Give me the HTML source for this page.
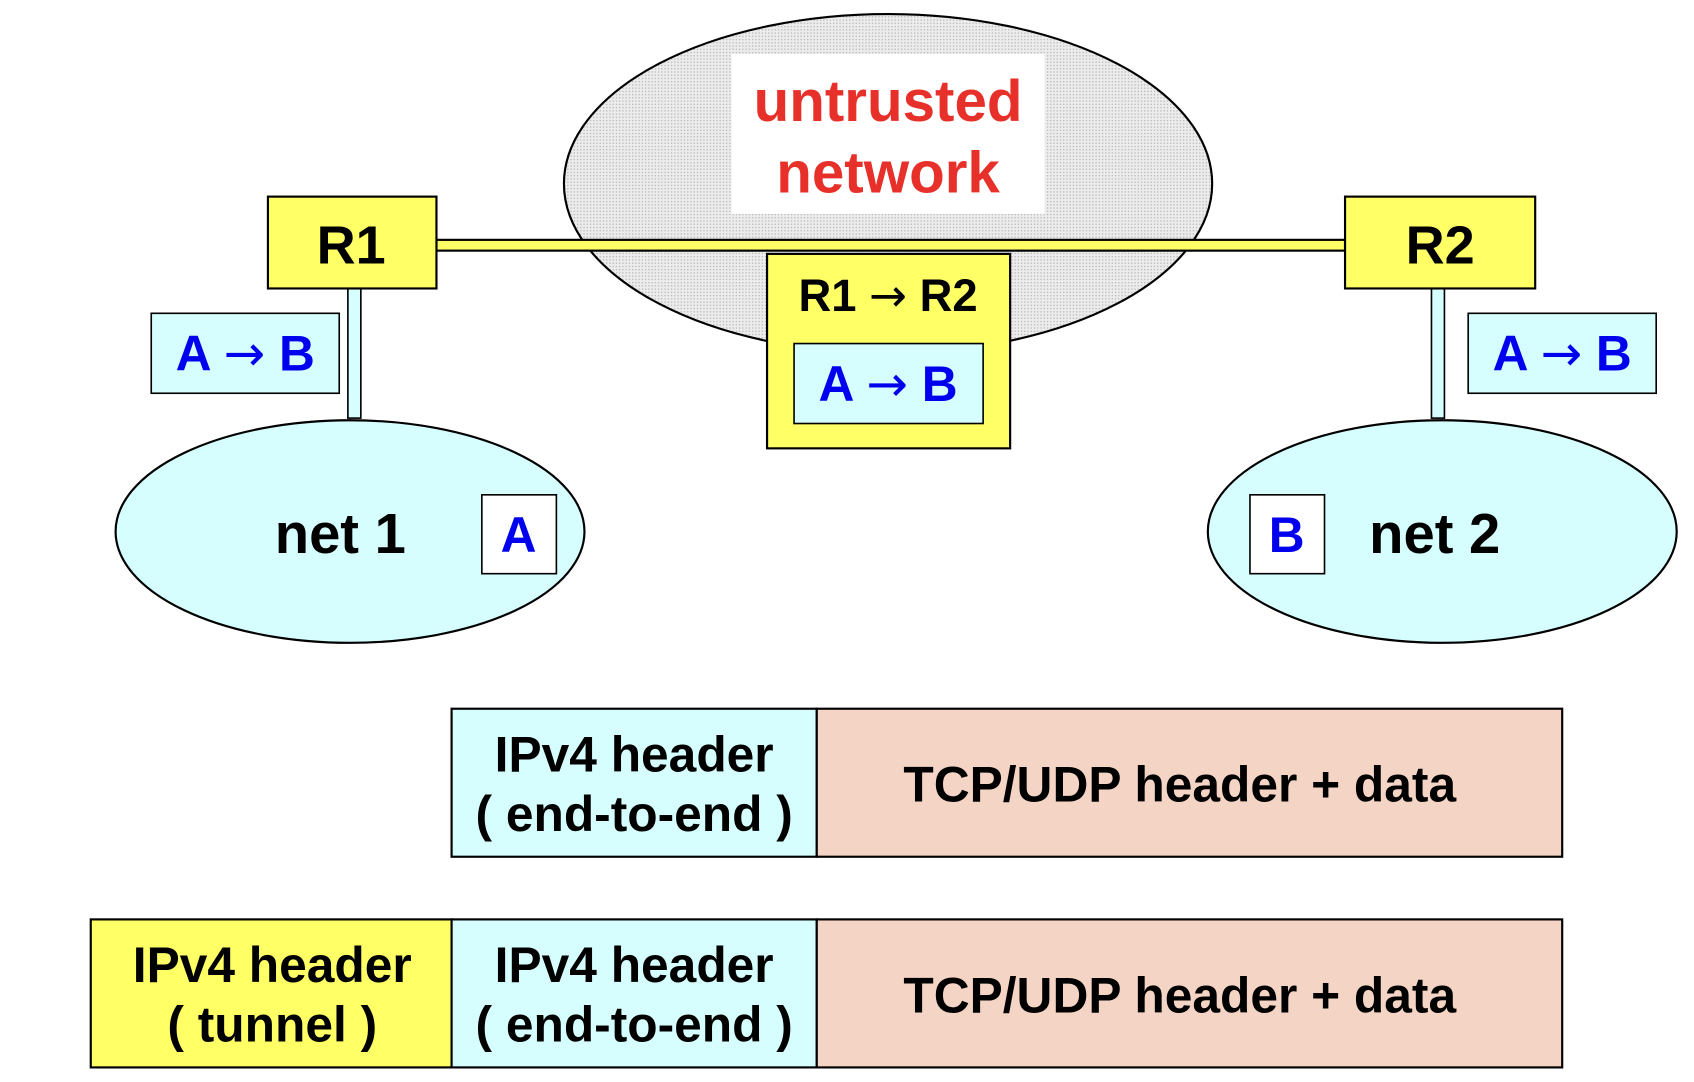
<!DOCTYPE html>
<html><head><meta charset="utf-8"><style>
html,body{margin:0;padding:0;background:#fff;width:1694px;height:1082px;overflow:hidden}
svg{display:block}
text{font-family:"Liberation Sans",Arial,sans-serif;font-weight:bold;text-anchor:middle}
.ar{font-family:"DejaVu Sans",sans-serif;font-weight:normal}
</style></head><body>
<svg width="1694" height="1082" viewBox="0 0 1568 1001.5" preserveAspectRatio="none">
<defs>
<pattern id="dots" width="3" height="3" patternUnits="userSpaceOnUse">
<rect width="3" height="3" fill="#ececec"/><rect width="1.2" height="1.2" fill="#b8b8b8"/>
</pattern>
</defs>
<ellipse cx="822" cy="170" rx="300" ry="157" fill="url(#dots)" stroke="#000" stroke-width="2"/>
<rect x="677" y="50" width="290" height="148" fill="#fff"/>
<text x="822" y="112" font-size="54" fill="#e8302a">untrusted</text>
<text x="822" y="178" font-size="54" fill="#e8302a">network</text>
<rect x="404" y="222" width="841" height="10" fill="#ffff66" stroke="#000" stroke-width="2"/>
<rect x="322" y="267" width="12" height="120" fill="#d6fefe" stroke="#000" stroke-width="1.5"/>
<rect x="1325" y="267" width="12" height="120" fill="#d6fefe" stroke="#000" stroke-width="1.5"/>
<rect x="248" y="182" width="156" height="85" fill="#ffff66" stroke="#000" stroke-width="2"/>
<text x="325" y="244" font-size="50" fill="#000">R1</text>
<rect x="1245" y="182" width="176" height="85" fill="#ffff66" stroke="#000" stroke-width="2"/>
<text x="1333" y="244" font-size="50" fill="#000">R2</text>
<rect x="710" y="235" width="225" height="180" fill="#ffff66" stroke="#000" stroke-width="2"/>
<text x="822" y="288" font-size="42" fill="#000">R1 <tspan class="ar">→</tspan> R2</text>
<rect x="735" y="318" width="175" height="74" fill="#d6fefe" stroke="#000" stroke-width="1.5"/>
<text x="822" y="371" font-size="46" fill="#0000ee">A <tspan class="ar">→</tspan> B</text>
<rect x="140" y="290" width="174" height="74" fill="#d6fefe" stroke="#000" stroke-width="1.5"/>
<text x="227" y="343" font-size="46" fill="#0000ee">A <tspan class="ar">→</tspan> B</text>
<rect x="1359" y="290" width="174" height="74" fill="#d6fefe" stroke="#000" stroke-width="1.5"/>
<text x="1446" y="343" font-size="46" fill="#0000ee">A <tspan class="ar">→</tspan> B</text>
<ellipse cx="324" cy="492" rx="217" ry="103" fill="#d6fefe" stroke="#000" stroke-width="2"/>
<text x="315" y="512" font-size="52" fill="#000">net 1</text>
<rect x="446" y="458" width="69" height="73" fill="#fff" stroke="#000" stroke-width="1.5"/>
<text x="480" y="511" font-size="46" fill="#0000ee">A</text>
<ellipse cx="1335" cy="492" rx="217" ry="103" fill="#d6fefe" stroke="#000" stroke-width="2"/>
<text x="1328" y="512" font-size="52" fill="#000">net 2</text>
<rect x="1157" y="458" width="69" height="73" fill="#fff" stroke="#000" stroke-width="1.5"/>
<text x="1191" y="511" font-size="46" fill="#0000ee">B</text>
<rect x="418" y="656" width="338" height="137" fill="#d6fefe" stroke="#000" stroke-width="2"/>
<rect x="756" y="656" width="690" height="137" fill="#f4d4c4" stroke="#000" stroke-width="2"/>
<text x="587" y="714" font-size="46" fill="#000">IPv4 header</text>
<text x="587" y="769" font-size="46" fill="#000">( end-to-end )</text>
<text x="1092" y="742" font-size="46" fill="#000">TCP/UDP header + data</text>
<rect x="84" y="851" width="334" height="137" fill="#ffff66" stroke="#000" stroke-width="2"/>
<rect x="418" y="851" width="338" height="137" fill="#d6fefe" stroke="#000" stroke-width="2"/>
<rect x="756" y="851" width="690" height="137" fill="#f4d4c4" stroke="#000" stroke-width="2"/>
<text x="252" y="909" font-size="46" fill="#000">IPv4 header</text>
<text x="252" y="964" font-size="46" fill="#000">( tunnel )</text>
<text x="587" y="909" font-size="46" fill="#000">IPv4 header</text>
<text x="587" y="964" font-size="46" fill="#000">( end-to-end )</text>
<text x="1092" y="937" font-size="46" fill="#000">TCP/UDP header + data</text>
</svg>
</body></html>
